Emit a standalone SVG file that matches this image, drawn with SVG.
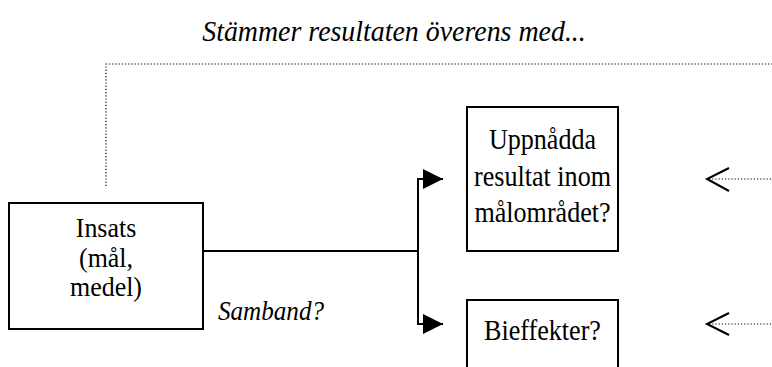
<svg xmlns="http://www.w3.org/2000/svg" width="772" height="367" viewBox="0 0 772 367">
  <style>
    .box { fill: #ffffff; stroke: #000000; stroke-width: 2; }
    .txt { font-family: "Liberation Serif", "Times New Roman", serif; font-size: 29px; fill: #000000; text-anchor: middle; }
    .small { font-size: 27px; }
    .ital { font-family: "Liberation Serif", "Times New Roman", serif; font-style: italic; fill: #000000; }
    .line { fill: none; stroke: #000000; stroke-width: 2; }
    .dot { fill: none; stroke: #000000; stroke-width: 1.2; stroke-dasharray: 1.2 2; }
    .open { fill: none; stroke: #000000; stroke-width: 2; }
  </style>
  <defs>
    <marker id="solid" markerWidth="20" markerHeight="20" refX="20" refY="10" orient="auto" markerUnits="userSpaceOnUse">
      <path d="M0,0 L20,10 L0,20 Z" fill="#000000"/>
    </marker>
  </defs>

  <rect width="772" height="367" fill="#ffffff"/>

  <text class="ital" transform="translate(394 41) scale(0.93 1)" font-size="30" text-anchor="middle">Stämmer resultaten överens med...</text>

  <g id="connectors">
    <!-- feedback line from the input box up and across -->
    <path class="dot" d="M106,186 L106,64 L772,64"/>
    <!-- main link and split -->
    <path class="line" d="M203,251 L418,251"/>
    <path class="line" d="M418,179 L418,324"/>
    <path class="line" d="M417,179 L443,179" marker-end="url(#solid)"/>
    <path class="line" d="M417,324 L443,324" marker-end="url(#solid)"/>
    <!-- incoming dotted arrows on the right -->
    <path class="dot" d="M709,179 L772,179"/>
    <path class="open" d="M729,168 L707,179 L729,191"/>
    <path class="dot" d="M709,324 L772,324"/>
    <path class="open" d="M729,313 L707,324 L729,335"/>
  </g>

  <g id="insats">
    <rect class="box" x="9" y="203" width="194" height="126"/>
    <text class="txt small" transform="translate(106 237) scale(0.96 1)">Insats</text>
    <text class="txt small" transform="translate(106 266.5) scale(0.96 1)">(mål,</text>
    <text class="txt small" transform="translate(106 296) scale(0.96 1)">medel)</text>
  </g>

  <g id="resultat">
    <rect class="box" x="467" y="107" width="151" height="144"/>
    <text class="txt" transform="translate(542.5 149) scale(0.9 1)">Uppnådda</text>
    <text class="txt" transform="translate(542.5 185.5) scale(0.9 1)">resultat inom</text>
    <text class="txt" transform="translate(542.5 222) scale(0.9 1)">målområdet?</text>
  </g>

  <g id="bieffekter">
    <rect class="box" x="467" y="300" width="151" height="90"/>
    <text class="txt" transform="translate(542.5 340) scale(0.9 1)">Bieffekter?</text>
  </g>

  <text class="ital" transform="translate(218 320) scale(0.93 1)" font-size="27">Samband?</text>
</svg>
